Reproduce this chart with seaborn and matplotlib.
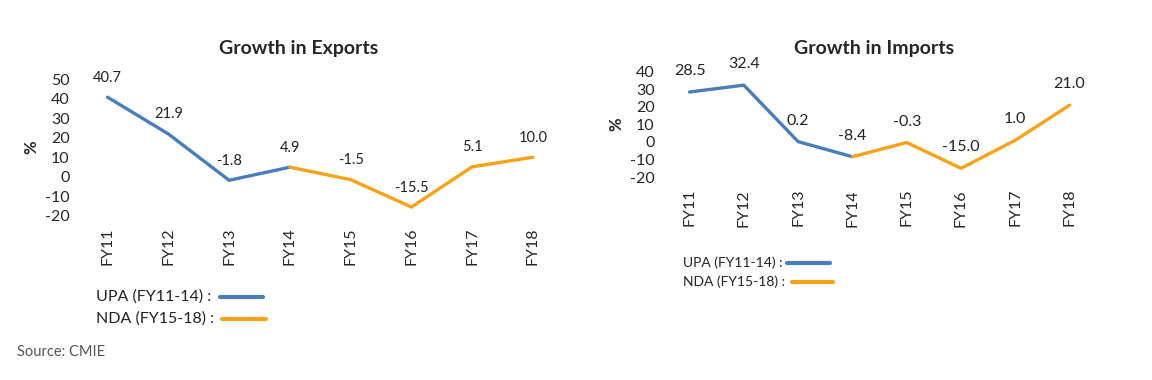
import numpy as np
import pandas as pd
import matplotlib
matplotlib.use('Agg')
import matplotlib.pyplot as plt
import seaborn as sns

# ─── Data ─────────────────────────────────────────────────────────────────────

years   = ["FY11", "FY12", "FY13", "FY14", "FY15", "FY16", "FY17", "FY18"]
exports = [40.7, 21.9, -1.8, 4.9, -1.5, -15.5, 5.1, 10.0]
imports = [28.5, 32.4, 0.2, -8.4, -0.3, -15.0, 1.0, 21.0]

upa_label = "UPA (FY11-14) :"
nda_label = "NDA (FY15-18) :"
BLUE   = "#4A7EBB"
ORANGE = "#F7A21B"

sns.set_style("white")
plt.rcParams['font.family'] = ['Lato', 'DejaVu Sans']
plt.rcParams['axes.unicode_minus'] = False

fig = plt.figure(figsize=(11.52, 3.8), dpi=100)

def draw_panel(ax, values, title, ylim, yticks, lbl_size, lbl_off, title_x, title_pad):
    df = pd.DataFrame({"pos": np.arange(len(years)), "val": values})
    sns.lineplot(data=df.iloc[:4], x="pos", y="val", color=BLUE, lw=2.4, ax=ax)
    sns.lineplot(data=df.iloc[3:], x="pos", y="val", color=ORANGE, lw=2.4, ax=ax)
    for p, v in zip(df["pos"], df["val"]):
        ax.annotate(f"{v:.1f}", (p, v), xytext=(0, lbl_off), textcoords="offset points",
                    ha="center", va="bottom", fontsize=lbl_size, color="#222222")
    ax.set_xlim(-0.5, len(years) - 0.5)
    ax.set_ylim(*ylim)
    ax.set_xticks(df["pos"])
    ax.set_xticklabels(years, rotation=90, fontsize=11.5)
    ax.set_yticks(yticks)
    ax.tick_params(axis="y", labelsize=11.5, pad=2)
    ax.tick_params(axis="x", pad=5)
    ax.set_xlabel("")
    ax.set_ylabel("%", fontsize=12, fontweight="bold", labelpad=4)
    ax.set_title(title, fontsize=14, fontweight="bold", pad=title_pad, x=title_x)
    sns.despine(ax=ax, left=True, bottom=True)

# ─── Exports ──────────────────────────────────────────────────────────────────
ax1 = fig.add_axes([0.067, 0.432, 0.422, 0.36])
draw_panel(ax1, exports, "Growth in Exports", (-20, 50), [-20, -10, 0, 10, 20, 30, 40, 50],
           10.5, 9, 0.455, 18)

# ─── Imports ──────────────────────────────────────────────────────────────────
ax2 = fig.add_axes([0.575, 0.534, 0.377, 0.277])
draw_panel(ax2, imports, "Growth in Imports", (-20, 40), [-20, -10, 0, 10, 20, 30, 40],
           11.5, 10, 0.488, 13)

# ─── Legends (text + line samples) ────────────────────────────────────────────
def legend_row(x_txt, y, label, x0, x1, color, size):
    fig.text(x_txt / 1152, 1 - y / 380, label, fontsize=size, va="center", ha="left", color="#222222")
    fig.add_artist(plt.Line2D([x0 / 1152, x1 / 1152], [1 - y / 380, 1 - y / 380],
                              color=color, lw=3, transform=fig.transFigure))

legend_row(96, 297, upa_label, 220, 263, BLUE, 11.5)
legend_row(96, 319, nda_label, 222, 266, ORANGE, 11.5)
legend_row(683, 263, upa_label, 787, 830, BLUE, 10)
legend_row(683, 282, nda_label, 792, 833, ORANGE, 10)

fig.text(17 / 1152, 1 - 352 / 380, "Source: CMIE", fontsize=10.5, color="#555555", va="center")

plt.savefig("out.png", dpi=100)
